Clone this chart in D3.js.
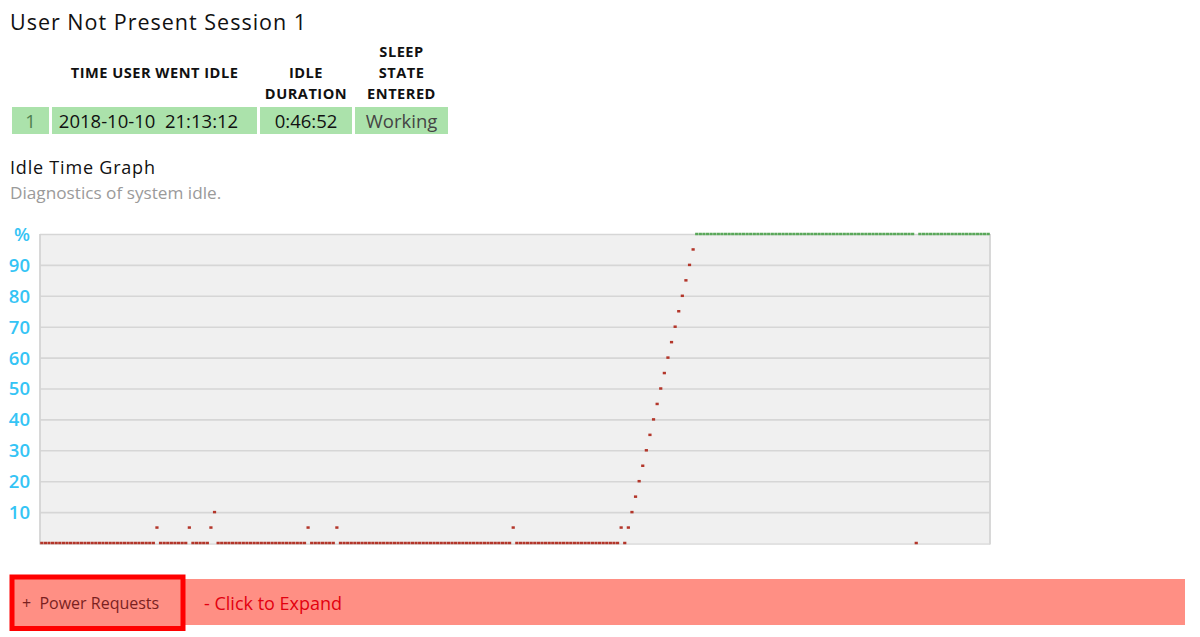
<!DOCTYPE html>
<html>
<head>
<meta charset="utf-8">
<script src="https://cdn.jsdelivr.net/npm/d3@7"></script>
<style>
  html, body { margin: 0; padding: 0; background: #ffffff; }
  svg { display: block; }
  text { font-family: "Open Sans", "Noto Sans", sans-serif; }
</style>
</head>
<body>
<div id="chart"></div>
<script>
// ---------- data ----------
const pageTitle = "User Not Present Session 1";
const tableHeaders = [[""], ["TIME USER WENT IDLE"], ["IDLE", "DURATION"], ["SLEEP", "STATE", "ENTERED"]];
const tableRow = ["1", "2018-10-10  21:13:12", "0:46:52", "Working"];
const graphTitle = "Idle Time Graph";
const graphSubtitle = "Diagnostics of system idle.";
const yTickValues = [10, 20, 30, 40, 50, 60, 70, 80, 90, 100];
const yTickLabels = ["10", "20", "30", "40", "50", "60", "70", "80", "90", "%"];
// idle percentage per sample (264 samples across the session)
const idleValues = [
  0,0,0,0,0,0,0,0, 0,0,0,0,0,0,0,0, 0,0,0,0,0,0,0,0, 0,0,0,0,0,0,0,0,   // 0-31
  5,0,0,0,0,0,0,0, 0,5,0,0,0,0,0,5, 10,0,0,0,0,0,0,0,                  // 32-55
  0,0,0,0,0,0,0,0, 0,0,0,0,0,0,0,0, 0,0,5,0,0,0,0,0,                   // 56-79
  0,0,5,0,0,0,0,0, 0,0,0,0,0,0,0,0, 0,0,0,0,0,0,0,0,                   // 80-103
  0,0,0,0,0,0,0,0, 0,0,0,0,0,0,0,0, 0,0,0,0,0,0,0,0,                   // 104-127
  0,0,0,5,0,0,0,0, 0,0,0,0,0,0,0,0, 0,0,0,0,0,0,0,0,                   // 128-151
  0,0,0,0,0,0,0,0, 0,5,0,5,10,15,20,25,                                 // 152-167
  30,35,40,45,50,55,60,65, 70,75,80,85,90,95,                           // 168-181
  100,100,100,100,100,100,100,100, 100,100,100,100,100,100,100,100,     // 182-197
  100,100,100,100,100,100,100,100, 100,100,100,100,100,100,100,100,     // 198-213
  100,100,100,100,100,100,100,100, 100,100,100,100,100,100,100,100,     // 214-229
  100,100,100,100,100,100,100,100, 100,100,100,100,100,0,100,100,       // 230-245
  100,100,100,100,100,100,100,100, 100,100,100,100,100,100,100,100,     // 246-261
  100,100                                                                // 262-263
];
const powerLabel = "+  Power Requests";
const expandLabel = "- Click to Expand";

// ---------- layout ----------
const W = 1200, H = 637;
const svg = d3.select("#chart").append("svg").attr("width", W).attr("height", H);

// Title
svg.append("text").attr("x", 10).attr("y", 30)
  .attr("font-size", 21.5).attr("fill", "#111").attr("letter-spacing", 1.0)
  .text(pageTitle);

// Table
const cellX = [12, 52, 260, 355];
const cellW = [37, 205, 92, 93];
const textShift = [0, -6, 0, 0];
const headerG = svg.append("g");
const headerLast = 99;
tableHeaders.forEach((lines, ci) => {
  const n = lines.length;
  lines.forEach((ln, li) => {
    headerG.append("text")
      .attr("x", cellX[ci] + cellW[ci] / 2)
      .attr("y", n === 1 ? 78 : headerLast - (n - 1 - li) * 21)
      .attr("text-anchor", "middle")
      .attr("font-size", 14.6).attr("font-weight", 700).attr("fill", "#111")
      .attr("letter-spacing", 0.5)
      .text(ln);
  });
});
const rowG = svg.append("g");
const rowColors = ["#4f7f4f", "#111", "#111", "#444"];
tableRow.forEach((v, ci) => {
  rowG.append("rect").attr("x", cellX[ci]).attr("y", 107)
    .attr("width", cellW[ci]).attr("height", 27).attr("fill", "#abe2ab");
  rowG.append("text").attr("x", cellX[ci] + cellW[ci] / 2 + textShift[ci]).attr("y", 128)
    .attr("text-anchor", "middle").attr("font-size", 18.5)
    .attr("fill", rowColors[ci]).attr("xml:space", "preserve")
    .style("white-space", "pre")
    .text(v);
});

// Graph titles
svg.append("text").attr("x", 10).attr("y", 174).attr("font-size", 18)
  .attr("fill", "#111").attr("letter-spacing", 0.8).text(graphTitle);
svg.append("text").attr("x", 10).attr("y", 199).attr("font-size", 17.2)
  .attr("fill", "#9a9a9a").text(graphSubtitle);

// Plot area
const plot = { left: 40, right: 990, top: 234, bottom: 543 };
const x = d3.scaleLinear().domain([0, idleValues.length]).range([plot.left, plot.right]);
const y = d3.scaleLinear().domain([0, 100]).range([plot.bottom, plot.top]);

svg.append("rect").attr("x", plot.left).attr("y", plot.top)
  .attr("width", plot.right - plot.left).attr("height", plot.bottom - plot.top)
  .attr("fill", "#f0f0f0");

// gridlines
const grid = svg.append("g").attr("transform", `translate(${plot.left},0)`)
  .call(d3.axisLeft(y).tickValues(yTickValues).tickSize(-(plot.right - plot.left)).tickFormat(""));
grid.select(".domain").remove();
grid.selectAll(".tick line").attr("stroke", "#d6d6d6").attr("stroke-width", 1.6);

// frame
svg.append("line").attr("x1", plot.left).attr("x2", plot.left).attr("y1", plot.top).attr("y2", plot.bottom + 1.5)
  .attr("stroke", "#d4d4d4").attr("stroke-width", 1.8);
svg.append("line").attr("x1", plot.right).attr("x2", plot.right).attr("y1", plot.top).attr("y2", plot.bottom + 1.5)
  .attr("stroke", "#d4d4d4").attr("stroke-width", 1.8);
svg.append("line").attr("x1", plot.left).attr("x2", plot.right).attr("y1", plot.bottom + 1).attr("y2", plot.bottom + 1)
  .attr("stroke", "#d8d8d8").attr("stroke-width", 1.4);

// y axis labels
const yAxis = svg.append("g").attr("transform", `translate(${plot.left - 10},0)`)
  .call(d3.axisLeft(y).tickValues(yTickValues).tickSize(0)
    .tickFormat((d, i) => yTickLabels[i]));
yAxis.select(".domain").remove();
yAxis.selectAll(".tick text")
  .attr("fill", "#35c4f5").attr("font-size", 18.5).attr("font-weight", 600)
  .attr("font-family", "'Open Sans', sans-serif").attr("x", 0)
  .attr("dy", "0.35em");

// samples as short dashes
svg.append("g").selectAll("rect").data(idleValues).join("rect")
  .attr("x", (d, i) => x(i) + 0.2)
  .attr("width", (d, i) => x(i + 1) - x(i) - 0.4)
  .attr("y", d => y(d) - 1.25)
  .attr("height", 2.5)
  .attr("fill", d => d >= 100 ? "#5aa85a" : "#b3362a");

// Power requests bar
svg.append("rect").attr("x", 10).attr("y", 579).attr("width", 1175).attr("height", 46)
  .attr("fill", "#ff8f84");
svg.append("rect").attr("x", 12).attr("y", 577).attr("width", 171).attr("height", 51.5)
  .attr("fill", "#ff8f84").attr("stroke", "#ff0000").attr("stroke-width", 5);
svg.append("text").attr("x", 22).attr("y", 609).attr("font-size", 16)
  .attr("fill", "#7a1f1f").attr("xml:space", "preserve").style("white-space", "pre")
  .text(powerLabel);
svg.append("text").attr("x", 204).attr("y", 610).attr("font-size", 18)
  .attr("fill", "#e3000f").text(expandLabel);
</script>
</body>
</html>
